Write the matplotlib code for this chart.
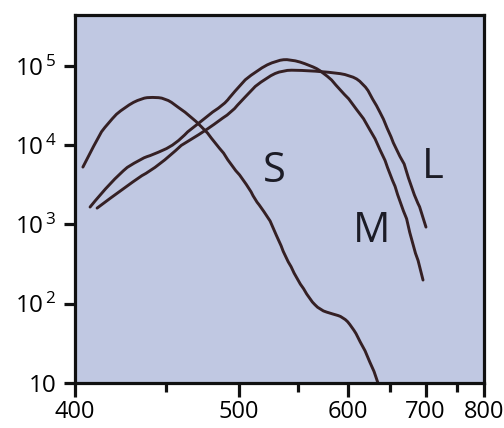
import numpy as np
from matplotlib import pyplot as plt
from matplotlib.path import Path
from matplotlib.patches import PathPatch
from matplotlib.ticker import FixedLocator, NullLocator, NullFormatter

# wavelength (nm) and sensitivity
s_wl = [403.9, 410.0, 416.8, 425.9, 435.7, 441.6, 449.4, 457.6, 466.8, 472.1,
        482.6, 495.0, 506.5, 512.9, 519.4, 531.2, 538.2, 549.0, 561.2, 571.0,
        584.3, 594.9, 604.8, 613.9, 625.6, 635.3]
s_val = [5300, 10600, 19000, 30200, 39300, 40400, 39300, 30200, 22000, 17900,
         10600, 5300, 3140, 2030, 1520, 693, 388, 199, 111, 83,
         74, 68, 51, 33, 18, 10]

m_wl = [407.5, 418.9, 435.7, 441.6, 455.7, 472.1, 489.8, 495.8, 514.5, 531.2,
        542.6, 561.2, 574.0, 591.7, 610.4, 625.6, 637.8, 650.5, 663.7,
        681.7, 696.2]
m_val = [1660, 3630, 6880, 7500, 10000, 19500, 33000, 45400, 88500, 118000,
         122000, 102000, 83500, 49500, 27700, 15500, 8670, 4200, 1860,
         504, 199]

l_wl = [411.1, 426.0, 445.2, 474.2, 481.2, 495.0, 503.4, 522.7, 536.4, 551.8,
        581.2, 602.6, 617.4, 629.2, 637.8, 646.6, 657.0, 681.7, 700.6]
l_val = [1610, 2960, 5300, 14600, 17900, 26100, 38100, 72300, 88500, 88500,
         83500, 76600, 60700, 37100, 26100, 16400, 9180, 2420, 927]

labels = {'S': (529, 4700), 'M': (628, 820), 'L': (711, 5300)}

x_major = [400, 500, 600, 700, 800]
x_minor = [450, 550, 650, 750]
y_ticks = [10, 1e2, 1e3, 1e4, 1e5]
y_labels = ['10', r'$10^{\,2}$', r'$10^{\,3}$', r'$10^{\,4}$', r'$10^{\,5}$']

BG = '#c0c8e2'
INK = '#352024'


def fwd(x):
    return -1.0 / np.maximum(x, 1e-6)


def inv(y):
    return -1.0 / np.minimum(y, -1e-9)


def smooth_path(xs, ys):
    """Quadratic bezier through the midpoints, read points as controls"""
    pts = list(zip(xs, ys))
    verts = [pts[0]]
    codes = [Path.MOVETO]
    for i in range(1, len(pts) - 1):
        mid = ((pts[i][0] + pts[i + 1][0]) / 2, (pts[i][1] + pts[i + 1][1]) / 2)
        verts += [pts[i], mid]
        codes += [Path.CURVE3, Path.CURVE3]
    verts.append(pts[-1])
    codes.append(Path.LINETO)
    return Path(verts, codes)


plt.rcParams['font.family'] = ['Open Sans', 'DejaVu Sans']
plt.rcParams['mathtext.default'] = 'regular'

fig = plt.figure(figsize=(5.04, 4.28), dpi=100)
ax = fig.add_axes([75 / 504, 45 / 428, 409 / 504, 368 / 428])
ax.set_facecolor(BG)

ax.set_xscale('function', functions=(fwd, inv))
ax.set_yscale('log')
ax.set_xlim(400, 800)
ax.set_ylim(10, 4.4e5)

for wl, val in [(s_wl, s_val), (m_wl, m_val), (l_wl, l_val)]:
    ax.add_patch(PathPatch(smooth_path(wl, val), facecolor='none',
                           edgecolor=INK, lw=2.1, capstyle='round',
                           joinstyle='round'))

for name, (x, y) in labels.items():
    ax.text(x, y, name, fontsize=30, color='#1c1c26', ha='center',
            va='center')

ax.xaxis.set_major_locator(FixedLocator(x_major))
ax.xaxis.set_minor_locator(FixedLocator(x_minor))
ax.xaxis.set_minor_formatter(NullFormatter())
ax.set_xticklabels([str(v) for v in x_major])
ax.yaxis.set_major_locator(FixedLocator(y_ticks))
ax.yaxis.set_minor_locator(NullLocator())
ax.set_yticklabels(y_labels)

for sp in ax.spines.values():
    sp.set_linewidth(2.3)
    sp.set_color('#111111')

ax.tick_params(axis='x', which='major', length=10, width=2.3, pad=2,
               labelsize=17, color='#111111')
ax.tick_params(axis='x', which='minor', length=6.5, width=2.3,
               color='#111111')
ax.tick_params(axis='y', which='major', length=8, width=2.3, pad=5,
               labelsize=17.5, color='#111111')

fig.savefig('out.png', dpi=100)
